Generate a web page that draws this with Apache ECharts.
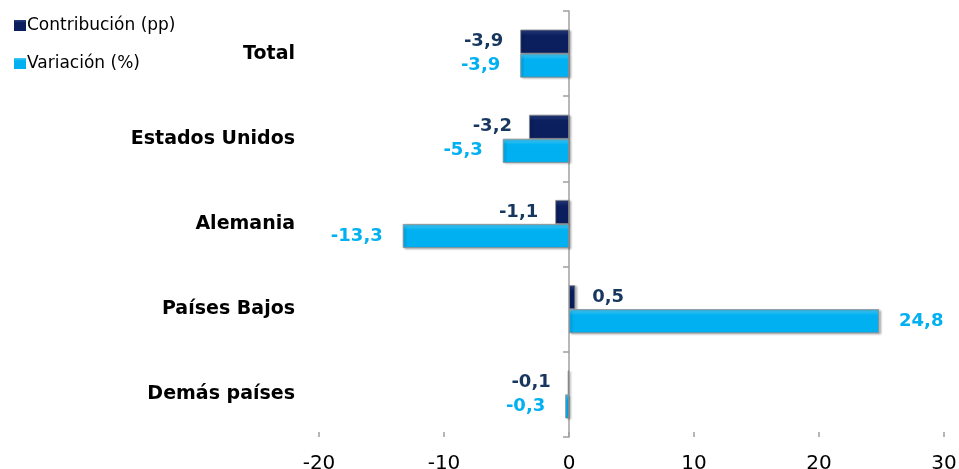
<!DOCTYPE html>
<html>
<head>
<meta charset="utf-8">
<script src="https://cdn.jsdelivr.net/npm/echarts@6/dist/echarts.min.js"></script>
<style>
  html, body { margin: 0; padding: 0; background: #fff; }
  #chart { width: 959px; height: 469px; }
</style>
</head>
<body>
<div id="chart"></div>
<script>
var categories = ['Total', 'Estados Unidos', 'Alemania', 'Países Bajos', 'Demás países'];
var contribucion = [-3.9, -3.2, -1.1, 0.5, -0.1];
var variacion = [-3.9, -5.3, -13.3, 24.8, -0.3];
var xTicks = { min: -20, max: 30, step: 10 };

var darkColor = '#0b1f5e';
var lightColor = '#00b0f0';
var font = 'DejaVu Sans';

function fmt(p) {
	return p.value.toFixed(1).replace('.', ',');
}

function withSide(values) {
	return values.map(function (v) {
		return { value: v, label: { position: v < 0 ? 'left' : 'right' } };
	});
}

function barColor(top, base) {
	return new echarts.graphic.LinearGradient(0, 0, 0, 1, [
		{ offset: 0, color: top },
		{ offset: 0.25, color: base },
		{ offset: 1, color: base }
	]);
}

var chart = echarts.init(document.getElementById('chart'));

var option = {
	backgroundColor: '#fff',
	animation: false,
	textStyle: { fontFamily: font },
	legend: {
		orient: 'vertical',
		left: 9,
		top: 12,
		itemWidth: 12,
		itemHeight: 11,
		itemGap: 21,
		icon: 'rect',
		itemStyle: { borderWidth: 0 },
		textStyle: { fontSize: 17, color: '#000', fontFamily: font, padding: [0, 0, 0, -4] },
		data: ['Contribución (pp)', 'Variación (%)']
	},
	grid: { left: 319, right: 15, top: 11, bottom: 32, containLabel: false, outerBoundsMode: 'none' },
	xAxis: {
		type: 'value',
		min: xTicks.min,
		max: xTicks.max,
		interval: xTicks.step,
		splitLine: { show: false },
		axisLine: { onZero: false, lineStyle: { color: '#a0a0a0', width: 1.5 } },
		axisTick: { show: true, inside: true, length: 5, lineStyle: { color: '#a0a0a0', width: 1.5 } },
		axisLabel: { color: '#000', fontSize: 20, margin: 17, fontFamily: font }
	},
	yAxis: [{
		type: 'category',
		inverse: true,
		data: categories,
		axisLine: { show: false, onZero: false },
		axisTick: { show: false },
		axisLabel: { color: '#000', fontSize: 19, fontWeight: 'bold', margin: 24, fontFamily: font }
	}, {
		type: 'category',
		inverse: true,
		data: categories,
		axisLine: { show: true, onZero: true, lineStyle: { color: '#a0a0a0', width: 1.5 } },
		axisTick: { show: true, inside: true, length: 6, lineStyle: { color: '#a0a0a0', width: 1.5 } },
		axisLabel: { show: false }
	}],
	series: [{
		name: 'Contribución (pp)',
		type: 'bar',
		yAxisIndex: 0,
		barWidth: 24,
		barGap: '0%',
		data: withSide(contribucion),
		itemStyle: {
			color: barColor('#2a3f80', darkColor),
			borderColor: '#8c8c8c',
			borderWidth: 0.8,
			shadowColor: 'rgba(0,0,0,0.25)',
			shadowOffsetX: 2,
			shadowOffsetY: 1,
			shadowBlur: 2
		},
		label: {
			show: true,
			distance: 17,
			formatter: fmt,
			color: '#17375e',
			fontSize: 18,
			fontWeight: 'bold',
			fontFamily: font
		}
	}, {
		name: 'Variación (%)',
		type: 'bar',
		yAxisIndex: 0,
		barWidth: 24,
		barGap: '0%',
		data: withSide(variacion),
		itemStyle: {
			color: barColor('#4ccaf5', lightColor),
			borderColor: '#8c8c8c',
			borderWidth: 0.8,
			shadowColor: 'rgba(0,0,0,0.25)',
			shadowOffsetX: 2,
			shadowOffsetY: 1,
			shadowBlur: 2
		},
		label: {
			show: true,
			distance: 20,
			formatter: fmt,
			color: lightColor,
			fontSize: 18,
			fontWeight: 'bold',
			fontFamily: font
		}
	}],
	color: [darkColor, lightColor]
};

chart.setOption(option);
</script>
</body>
</html>
